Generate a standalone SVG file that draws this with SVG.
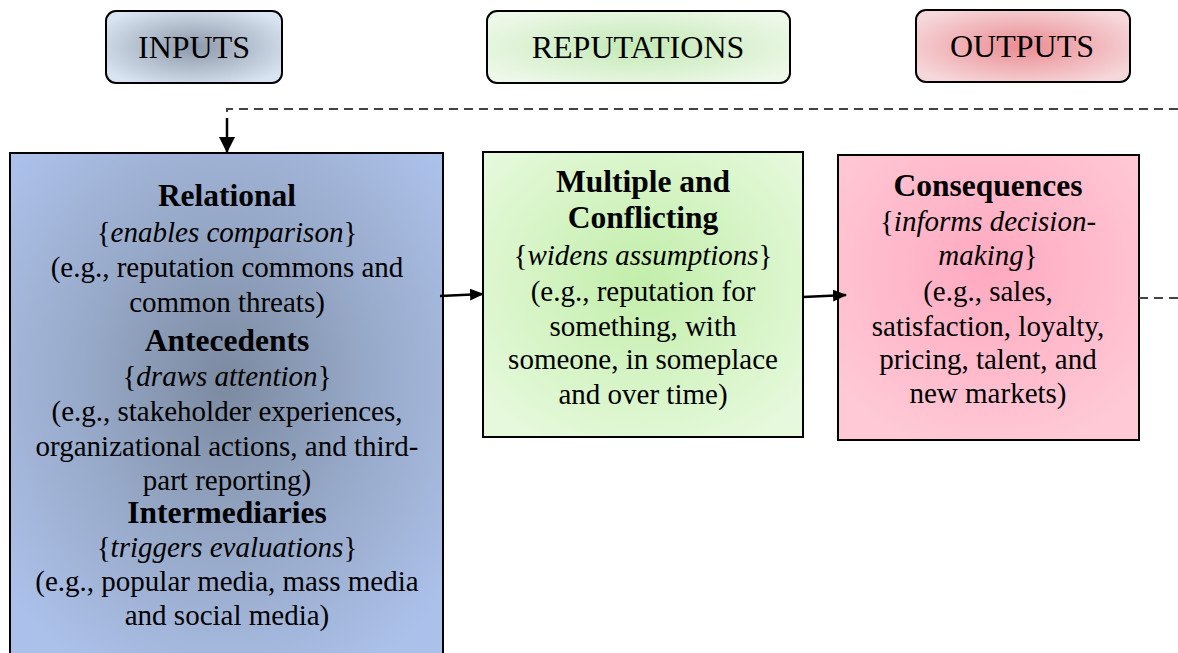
<svg xmlns="http://www.w3.org/2000/svg" width="1178" height="653" viewBox="0 0 1178 653">
<defs>
<radialGradient id="gIn" cx="50%" cy="50%" r="60%"><stop offset="0" stop-color="#8d99a8"/><stop offset="1" stop-color="#d8e4f2"/></radialGradient>
<radialGradient id="gRep" cx="50%" cy="50%" r="60%"><stop offset="0" stop-color="#c4e9b6"/><stop offset="1" stop-color="#edf8e8"/></radialGradient>
<radialGradient id="gOut" cx="50%" cy="50%" r="60%"><stop offset="0" stop-color="#ea8c92"/><stop offset="1" stop-color="#f6d8db"/></radialGradient>
<radialGradient id="gBlue" cx="50%" cy="45%" r="65%"><stop offset="0" stop-color="#7b8aa0"/><stop offset="0.5" stop-color="#97a9c8"/><stop offset="1" stop-color="#acc1ea"/></radialGradient>
<radialGradient id="gGreen" cx="50%" cy="45%" r="65%"><stop offset="0" stop-color="#c2eeaa"/><stop offset="1" stop-color="#e6f9dc"/></radialGradient>
<radialGradient id="gPink" cx="50%" cy="40%" r="65%"><stop offset="0" stop-color="#ffa9c0"/><stop offset="1" stop-color="#ffc9d6"/></radialGradient>
<marker id="ah" markerWidth="14" markerHeight="14" refX="13" refY="7" orient="auto" markerUnits="userSpaceOnUse" viewBox="0 0 14 14"><path d="M0,1 L14,7 L0,13 z" fill="#000"/></marker>
<marker id="ahBig" markerWidth="16" markerHeight="16" refX="15" refY="8" orient="auto" markerUnits="userSpaceOnUse" viewBox="0 0 16 16"><path d="M0,0 L16,8 L0,16 z" fill="#000"/></marker>
</defs>
<style>
.hdr{stroke:#000;stroke-width:2}
.box{stroke:#000;stroke-width:2}
text{fill:#000;text-anchor:middle;font-family:'Liberation Serif','Times New Roman',serif}
.h{font-size:32px}
.t{font-size:29px}
.b{font-size:31.5px;font-weight:bold}
.i{font-style:italic}
.dash{stroke:#444;stroke-width:2;stroke-dasharray:9,6;fill:none}
.conn{stroke:#000;stroke-width:2.5;fill:none}
</style>
<g id="hdr-inputs">
<rect class="hdr" x="106" y="11" width="176" height="72" rx="10" fill="url(#gIn)"/>
<text class="h" x="194" y="58">INPUTS</text>
</g>
<g id="hdr-reputations">
<rect class="hdr" x="487" y="11" width="303" height="72" rx="10" fill="url(#gRep)"/>
<text class="h" x="638" y="58">REPUTATIONS</text>
</g>
<g id="hdr-outputs">
<rect class="hdr" x="916" y="10" width="214" height="72" rx="10" fill="url(#gOut)"/>
<text class="h" x="1022" y="57">OUTPUTS</text>
</g>
<g id="inputs">
<rect class="box" x="10" y="153" width="433" height="510" fill="url(#gBlue)"/>
<text class="b" x="227" y="206">Relational</text>
<text class="t" x="227" y="242">{<tspan class="i">enables comparison</tspan>}</text>
<text class="t" x="227" y="277">(e.g., reputation commons and</text>
<text class="t" x="227" y="312">common threats)</text>
<text class="b" x="227" y="351">Antecedents</text>
<text class="t" x="227" y="386">{<tspan class="i">draws attention</tspan>}</text>
<text class="t" x="227" y="421">(e.g., stakeholder experiences,</text>
<text class="t" x="227" y="456">organizational actions, and third-</text>
<text class="t" x="227" y="490">part reporting)</text>
<text class="b" x="227" y="523">Intermediaries</text>
<text class="t" x="227" y="557">{<tspan class="i">triggers evaluations</tspan>}</text>
<text class="t" x="227" y="591">(e.g., popular media, mass media</text>
<text class="t" x="227" y="625">and social media)</text>
</g>
<g id="reputations">
<rect class="box" x="483" y="152" width="320" height="285" fill="url(#gGreen)"/>
<text class="b" x="643" y="192">Multiple and</text>
<text class="b" x="643" y="228">Conflicting</text>
<text class="t" x="643" y="265">{<tspan class="i">widens assumptions</tspan>}</text>
<text class="t" x="643" y="301">(e.g., reputation for</text>
<text class="t" x="643" y="336">something, with</text>
<text class="t" x="643" y="369">someone, in someplace</text>
<text class="t" x="643" y="404">and over time)</text>
</g>
<g id="outputs">
<rect class="box" x="838" y="155" width="301" height="285" fill="url(#gPink)"/>
<text class="b" x="988" y="196">Consequences</text>
<text class="t" x="988" y="231">{<tspan class="i">informs decision-</tspan></text>
<text class="t" x="988" y="265"><tspan class="i">making</tspan>}</text>
<text class="t" x="988" y="301">(e.g., sales,</text>
<text class="t" x="988" y="336">satisfaction, loyalty,</text>
<text class="t" x="988" y="369">pricing, talent, and</text>
<text class="t" x="988" y="403">new markets)</text>
</g>
<g id="connectors">
<path class="dash" d="M1178,109 H227 V122"/>
<path class="conn" d="M227,118 V152" marker-end="url(#ahBig)"/>
<path class="conn" d="M440,296 L483,294" marker-end="url(#ah)"/>
<path class="conn" d="M803,297 L846,295" marker-end="url(#ah)"/>
<path class="dash" d="M1139,298 H1178"/>
</g>
</svg>
